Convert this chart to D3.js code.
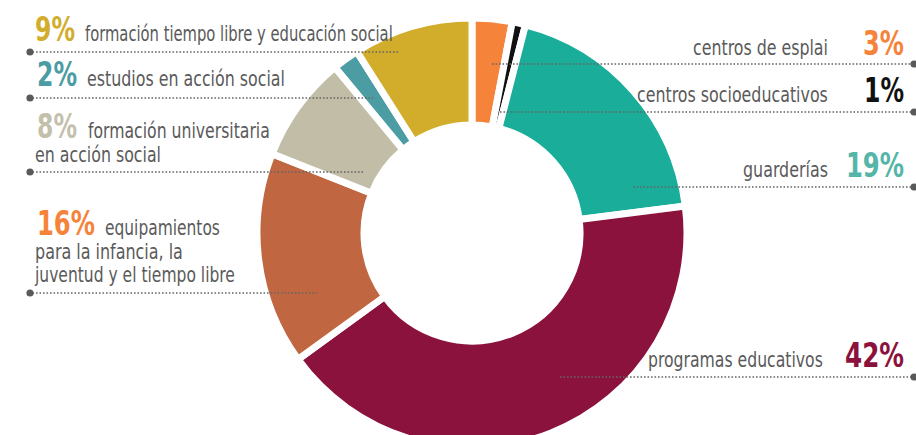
<html>
<head>
  <script src="https://d3js.org/d3.v7.min.js"></script>
  <style type="text/css">
  body { margin: 0; background: #fff; }
  text { font-family: "DejaVu Sans Condensed", "DejaVu Sans", sans-serif; }
  .name { fill: #5a5a5a; font-size: 21px; }
  .pct { font-size: 34px; font-weight: bold; }
  </style>
</head>
<body>
<div id="viz"></div>
<script type="text/javascript">

const categories = ["centros de esplai", "centros socioeducativos", "guarderías", "programas educativos",
  "equipamientos para la infancia, la juventud y el tiempo libre", "formación universitaria en acción social",
  "estudios en acción social", "formación tiempo libre y educación social"];
const values = [3, 1, 19, 42, 16, 8, 2, 9];
const pctLabels = ["3%", "1%", "19%", "42%", "16%", "8%", "2%", "9%"];
// the lines as they are broken in the picture
const labelLines = [
  ["centros de esplai"],
  ["centros socioeducativos"],
  ["guarderías"],
  ["programas educativos"],
  ["equipamientos", "para la infancia, la", "juventud y el tiempo libre"],
  ["formación universitaria", "en acción social"],
  ["estudios en acción social"],
  ["formación tiempo libre y educación social"]
];

const W = 916, H = 435;
const CX = 472, CY = 233;

const sliceColors = ["#f5843a", "#111111", "#19ad9a", "#8b123d", "#c06641", "#c1bda6", "#4b9ca3", "#d2ad2c"];
const pctColors = ["#f5843a", "#111111", "#55b5a8", "#8b123d", "#f5843a", "#c4bfab", "#4b9ca3", "#d2ad2c"];

// label layout: side, dotted line y, inner end of line, first baseline,
// x of first name line, widths of the name lines and of the percent (the font is condensed)
const layout = [
  { side: "r", lineY: 64, x: 492, base: 55, nameX: 828, widths: [135], pctW: 41 },
  { side: "r", lineY: 112, x: 500, base: 102, nameX: 828, widths: [191], pctW: 40 },
  { side: "r", lineY: 187, x: 633, base: 177, nameX: 828, widths: [85], pctW: 58 },
  { side: "r", lineY: 377, x: 560, base: 367, nameX: 823, widths: [175], pctW: 59 },
  { side: "l", lineY: 293, x: 317, base: 235, nameX: 105, widths: [115, 148, 200], pctW: 58 },
  { side: "l", lineY: 172, x: 363, base: 138, nameX: 88, widths: [182, 126], pctW: 40 },
  { side: "l", lineY: 98, x: 373, base: 86, nameX: 87, widths: [198], pctW: 40 },
  { side: "l", lineY: 52, x: 400, base: 41, nameX: 85, widths: [308], pctW: 40 }
];

const svg = d3.select("#viz")
  .append("svg")
  .attr("width", W)
  .attr("height", H);

const pie = d3.pie().sort(null).value(d => d)(values);
const arc = d3.arc().innerRadius(108).outerRadius(215);

svg.append("g")
  .attr("transform", `translate(${CX},${CY})`)
  .selectAll("path")
  .data(pie)
  .enter().append("path")
  .attr("d", arc)
  .attr("fill", (d, i) => sliceColors[i])
  .attr("stroke", "#fff")
  .attr("stroke-width", 7)
  .attr("stroke-linejoin", "miter");

const labels = svg.append("g");

// squeeze a text to a given width, starting at x (left edge)
function squeezed(cls, str, x, y, w, color) {
  let t = labels.append("text")
    .attr("class", cls)
    .attr("fill", color)
    .text(str);
  let natural = t.node().getComputedTextLength();
  t.attr("transform", `translate(${x},${y}) scale(${w / natural},1)`);
  return t;
}

layout.forEach((l, i) => {
  let x0 = l.side === "r" ? l.x : 29;
  let x1 = l.side === "r" ? 914 : l.x;

  labels.append("line")
    .attr("x1", x0).attr("x2", x1)
    .attr("y1", l.lineY).attr("y2", l.lineY)
    .style("stroke", "#666")
    .style("stroke-width", 1.6)
    .style("stroke-dasharray", "1.6,1.9");

  labels.append("circle")
    .attr("cx", l.side === "r" ? 914 : 30)
    .attr("cy", l.lineY)
    .attr("r", 3.6)
    .attr("fill", "#5a5a5a");

  if (l.side === "r") {
    squeezed("pct", pctLabels[i], 904 - l.pctW, l.base, l.pctW, pctColors[i]);
    squeezed("name", labelLines[i][0], l.nameX - l.widths[0], l.base, l.widths[0], "#5a5a5a");
  } else {
    squeezed("pct", pctLabels[i], i === 7 ? 35 : 37, l.base, l.pctW, pctColors[i]);
    labelLines[i].forEach((line, j) => {
      squeezed("name", line, j === 0 ? l.nameX : 35, l.base + j * 23.5, l.widths[j], "#5a5a5a");
    });
  }
});

</script>
</body>
</html>
